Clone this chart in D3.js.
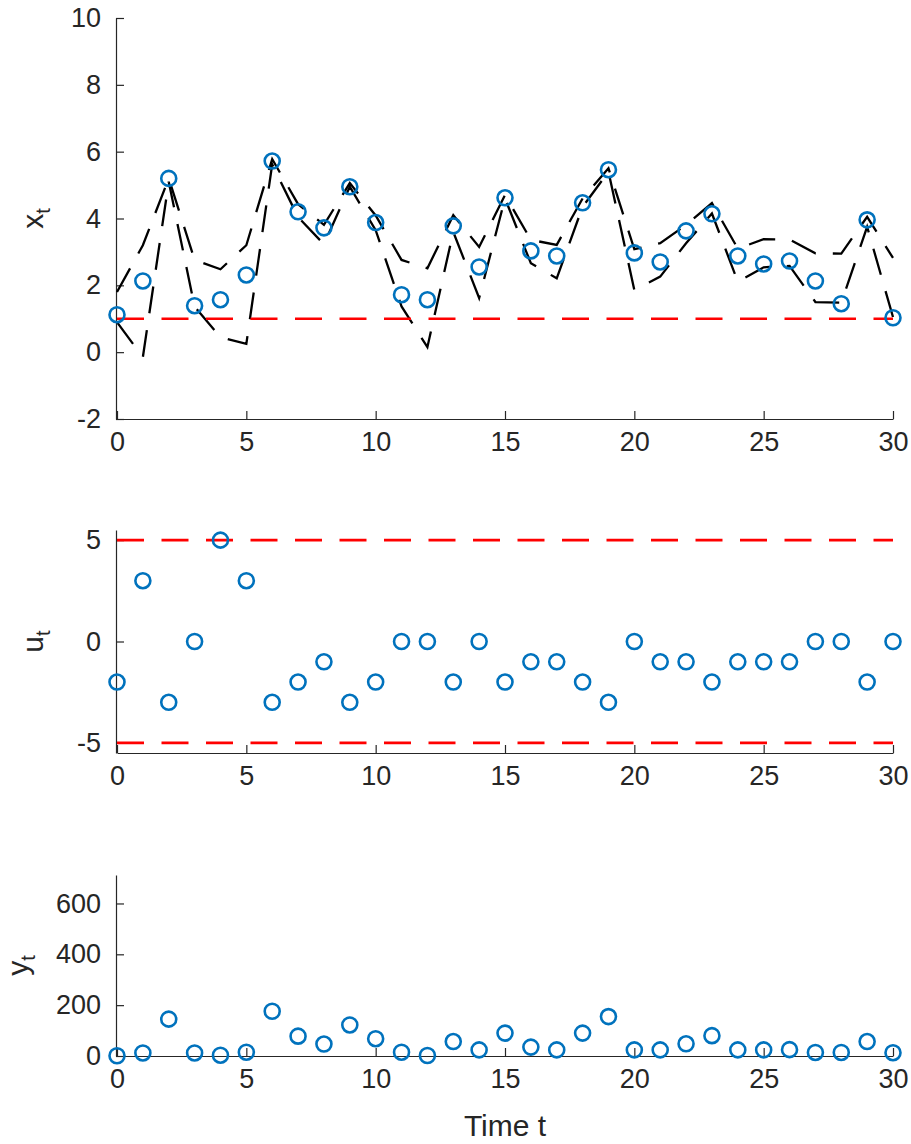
<!DOCTYPE html>
<html>
<head>
<meta charset="utf-8">
<script src="https://cdn.jsdelivr.net/npm/d3@7"></script>
<style>
  body { margin: 0; background: #fff; }
  text { font-family: "Liberation Sans", Arial, Helvetica, sans-serif; fill: #262626; }
</style>
</head>
<body>
<svg id="chart" width="911" height="1144"></svg>
<script>
// Time steps of the closed-loop simulation
const timeSteps = [0,1,2,3,4,5,6,7,8,9,10,11,12,13,14,15,16,17,18,19,20,21,22,23,24,25,26,27,28,29,30];

// State trajectory x_t and its upper / lower envelope
const stateX = [1.12,2.13,5.2,1.39,1.57,2.31,5.72,4.2,3.72,4.95,3.88,1.72,1.57,3.78,2.55,4.62,3.03,2.88,4.47,5.46,2.97,2.7,3.63,4.14,2.88,2.64,2.73,2.13,1.45,3.96,1.03];
const stateUpper = [1.8,3.2,5.2,2.76,2.48,3.2,5.78,4.43,3.81,5.06,4.09,2.76,2.51,4.1,3.15,4.7,3.36,3.21,4.6,5.5,3.08,3.26,3.81,4.46,3.1,3.38,3.37,2.96,2.95,4.05,2.82];
const stateLower = [0.9,-0.15,5.1,1.36,0.45,0.25,5.62,4.04,3.23,4.95,3.65,1.37,0.15,3.6,1.62,4.6,2.66,2.21,4.35,5.4,1.86,2.26,3.26,4.15,2.11,2.54,2.58,1.5,1.48,3.75,1.05];
const stateMin = 1;

// Control input u_t and its bounds
const inputU = [-2,3,-3,0,5,3,-3,-2,-1,-3,-2,0,0,-2,0,-2,-1,-1,-2,-3,0,-1,-1,-2,-1,-1,-1,0,0,-2,0];
const inputBounds = [-5, 5];

// Output y_t
const outputY = [1,12,145,12,3,15,176,78,47,122,68,15,2,57,24,90,35,24,90,155,24,24,48,80,24,24,25,14,14,57,13];

// Tick values
const timeTicks = [0,5,10,15,20,25,30];
const stateTicks = [-2,0,2,4,6,8,10];
const inputTicks = [-5,0,5];
const outputTicks = [0,200,400,600];

const svg = d3.select("#chart");
const axisColor = "#262626";
const blue = "#0072BD";
const tickFont = 27;
const labelFont = 30;

const x = d3.scaleLinear().domain([0, 30]).range([117, 893]);

const panels = [
  { key: "x", domain: [-2, 10], range: [419, 18], ticks: stateTicks, label: "x", labelX: 43 },
  { key: "u", domain: [-5.5, 5.5], range: [753, 530], ticks: inputTicks, label: "u", labelX: 43 },
  { key: "y", domain: [0, 712], range: [1056, 875], ticks: outputTicks, label: "y", labelX: 28 }
];

panels.forEach(p => {
  p.y = d3.scaleLinear().domain(p.domain).range(p.range);
  const g = svg.append("g").attr("class", "panel-" + p.key);
  p.g = g;

  // axes (inward ticks, no box)
  const yAxis = d3.axisLeft(p.y).tickValues(p.ticks).tickSizeInner(-8).tickSizeOuter(0).tickPadding(15)
    .tickFormat(d3.format("d"));
  const xAxis = d3.axisBottom(x).tickValues(timeTicks).tickSizeInner(-8).tickSizeOuter(0).tickPadding(13)
    .tickFormat(d3.format("d"));

  const ya = g.append("g").attr("transform", `translate(${x(0) - 1},0)`).call(yAxis);
  const xa = g.append("g").attr("transform", `translate(0,${p.range[0]})`).call(xAxis);
  [ya, xa].forEach(a => {
    a.select(".domain").attr("stroke", axisColor).attr("stroke-width", 1.2);
    a.selectAll(".tick line").attr("stroke", axisColor).attr("stroke-width", 1.2);
    a.selectAll(".tick text").attr("font-size", tickFont).style("fill", axisColor)
      .text(d => d < 0 ? "-" + Math.abs(d) : String(d));
  });

  // rotated axis label with subscript t
  const midY = (p.range[0] + p.range[1]) / 2;
  const lab = g.append("text")
    .attr("transform", `translate(${p.labelX},${midY}) rotate(-90)`)
    .attr("text-anchor", "middle")
    .attr("font-size", labelFont);
  lab.append("tspan").text(p.label);
  lab.append("tspan").attr("font-size", 20).attr("dy", 7).text("t");
});

const line = (yScale) => d3.line().x((d, i) => x(timeSteps[i])).y(d => yScale(d));

// --- state panel ---
const pX = panels[0];
[stateUpper, stateLower].forEach(series => {
  pX.g.append("path").datum(series).attr("d", line(pX.y))
    .attr("fill", "none").attr("stroke", "#000").attr("stroke-width", 2.3)
    .attr("stroke-dasharray", "27 17");
});
pX.g.append("line")
  .attr("x1", x(0)).attr("x2", x(30)).attr("y1", pX.y(stateMin)).attr("y2", pX.y(stateMin))
  .attr("stroke", "#FF0000").attr("stroke-width", 2.6).attr("stroke-dasharray", "27 17.5");

// --- input panel ---
const pU = panels[1];
inputBounds.forEach(b => {
  pU.g.append("line")
    .attr("x1", x(0)).attr("x2", x(30)).attr("y1", pU.y(b)).attr("y2", pU.y(b))
    .attr("stroke", "#FF0000").attr("stroke-width", 2.6).attr("stroke-dasharray", "27 17.5");
});

// markers
[[pX, stateX], [pU, inputU], [panels[2], outputY]].forEach(([p, vals]) => {
  p.g.append("g").selectAll("circle").data(vals).join("circle")
    .attr("cx", (d, i) => x(timeSteps[i]))
    .attr("cy", d => p.y(d))
    .attr("r", 7.5)
    .attr("fill", "none")
    .attr("stroke", blue)
    .attr("stroke-width", 2.6);
});

// x-axis title
svg.append("text")
  .attr("x", x(15)).attr("y", 1136)
  .attr("text-anchor", "middle")
  .attr("font-size", labelFont)
  .text("Time t");
</script>
</body>
</html>
